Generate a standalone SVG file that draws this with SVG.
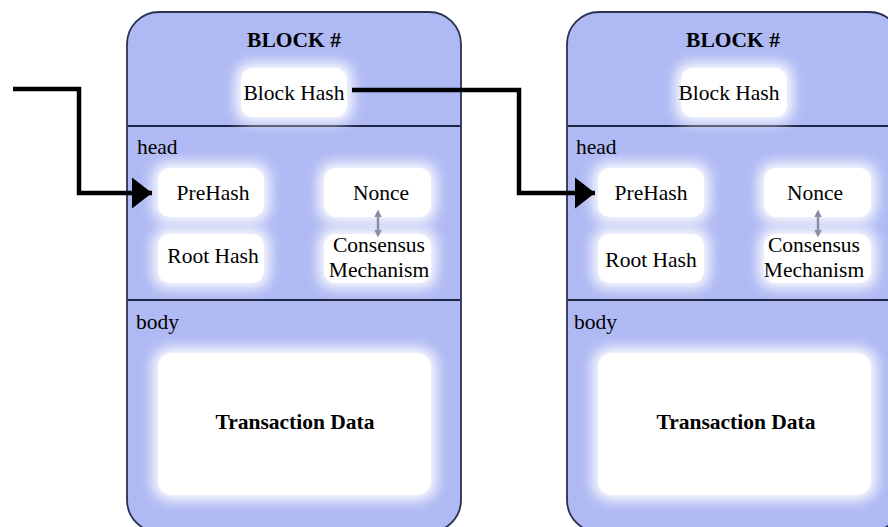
<svg xmlns="http://www.w3.org/2000/svg" width="888" height="527" viewBox="0 0 888 527">
<style>
.blk{fill:#afb9f3;stroke:#2a3050;stroke-width:1.8}
.div{stroke:#1e2540;stroke-width:2.2}
.glow{fill:#ffffff;filter:url(#blur)}
.box{fill:#ffffff}
.t{font-family:"Liberation Serif",serif;font-size:21.5px;fill:#000;text-anchor:middle}
.tb{font-family:"Liberation Serif",serif;font-size:21.5px;font-weight:bold;fill:#000;text-anchor:middle}
.lbl{font-family:"Liberation Serif",serif;font-size:21.5px;fill:#000}
.conn{fill:none;stroke:#000;stroke-width:4.5}
.small{stroke:#8a8fa8;stroke-width:2.5}
</style>
<defs>
<filter id="blur" x="-30%" y="-30%" width="160%" height="160%"><feGaussianBlur stdDeviation="7"/></filter>
<marker id="ah" markerWidth="5" markerHeight="7" refX="4.5" refY="3.5" orient="auto" markerUnits="strokeWidth"><path d="M0,0 L4.5,3.5 L0,7 Z" fill="#000"/></marker>
<marker id="sa" markerWidth="4" markerHeight="4" refX="2" refY="2" orient="auto-start-reverse"><path d="M0,0.5 L3,2 L0,3.5 Z" fill="#8a8fa8"/></marker>
<g id="b">
<rect class="blk" x="127" y="12" width="334" height="520" rx="32"/>
<line class="div" x1="128" y1="126" x2="460" y2="126"/>
<line class="div" x1="128" y1="300" x2="460" y2="300"/>
<rect class="glow" x="236" y="63" width="116" height="59" rx="14"/>
<rect class="glow" x="153" y="163" width="116" height="59" rx="14"/>
<rect class="glow" x="319" y="163" width="117" height="59" rx="14"/>
<rect class="glow" x="153" y="229" width="116" height="59" rx="14"/>
<rect class="glow" x="319" y="229" width="117" height="59" rx="14"/>
<rect class="glow" x="153" y="348" width="283" height="152" rx="16"/>
<rect class="box" x="241" y="68" width="106" height="49" rx="12"/>
<rect class="box" x="158" y="168" width="106" height="49" rx="12"/>
<rect class="box" x="324" y="168" width="107" height="49" rx="12"/>
<rect class="box" x="158" y="234" width="106" height="49" rx="12"/>
<rect class="box" x="324" y="234" width="107" height="49" rx="12"/>
<rect class="box" x="158" y="353" width="273" height="142" rx="14"/>
<line class="small" x1="378" y1="212" x2="378" y2="235" marker-start="url(#sa)" marker-end="url(#sa)"/>
</g>
</defs>
<g id="block1">
<use href="#b"/>
<text class="tb" x="294" y="47">BLOCK #</text>
<text class="t" x="294" y="100">Block Hash</text>
<text class="lbl" x="137" y="154">head</text>
<text class="t" x="213" y="200">PreHash</text>
<text class="t" x="381" y="200">Nonce</text>
<text class="t" x="213" y="263">Root Hash</text>
<text class="t" x="379" y="252">Consensus</text>
<text class="t" x="379" y="277">Mechanism</text>
<text class="lbl" x="136" y="329">body</text>
<text class="tb" x="295" y="429">Transaction Data</text>
</g>
<g id="block2">
<use href="#b" transform="translate(440,0)"/>
<text class="tb" x="733" y="47">BLOCK #</text>
<text class="t" x="729" y="100">Block Hash</text>
<text class="lbl" x="576" y="154">head</text>
<text class="t" x="651" y="200">PreHash</text>
<text class="t" x="815" y="200">Nonce</text>
<text class="t" x="651" y="267">Root Hash</text>
<text class="t" x="814" y="252">Consensus</text>
<text class="t" x="814" y="277">Mechanism</text>
<text class="lbl" x="574" y="329">body</text>
<text class="tb" x="736" y="429">Transaction Data</text>
</g>
<g id="connectors">
<path class="conn" d="M13,89 H79 V193 H152" marker-end="url(#ah)"/>
<path class="conn" d="M352,90 H519 V193 H595" marker-end="url(#ah)"/>
</g>
</svg>
